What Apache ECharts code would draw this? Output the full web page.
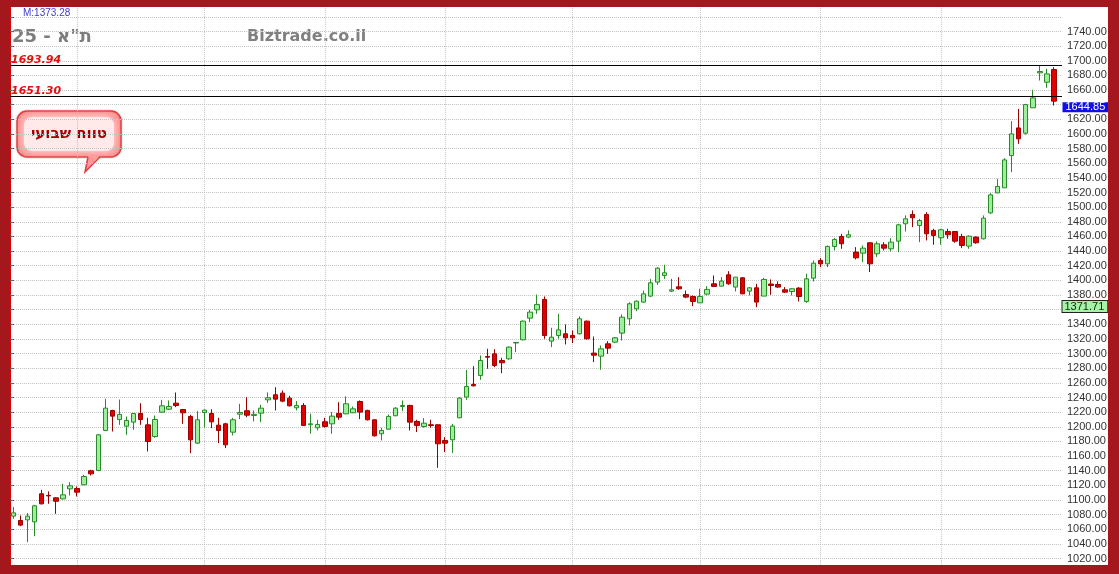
<!DOCTYPE html>
<html><head><meta charset="utf-8">
<script src="https://cdn.jsdelivr.net/npm/echarts@6/dist/echarts.min.js"></script>
<style>
html,body{margin:0;padding:0;background:#a3171d;width:1119px;height:574px;overflow:hidden}
#panel{position:absolute;left:9px;top:7px;width:1099px;height:558px;background:#fff;border-left:1px solid #8a8a8a;box-sizing:border-box}
#chart{position:absolute;left:0;top:0;width:1119px;height:574px}
.b{position:absolute;background:#a3171d}
</style></head><body>
<div id="panel"></div>
<div id="chart"></div>
<div class="b" style="left:0;top:0;width:1119px;height:7px"></div>
<div class="b" style="left:0;top:565px;width:1119px;height:9px"></div>
<div class="b" style="left:0;top:0;width:9px;height:574px"></div>
<div class="b" style="left:1108px;top:0;width:11px;height:574px"></div>
<script>
// ---- data (weekly candles) ----
const openPrices = [1077.9,1071.9,1072.8,1070.1,1108.4,1106.1,1102.9,1101.5,1115.2,1115.6,1120.7,1139.8,1140.2,1194.9,1222.2,1209.9,1200.8,1206.3,1218.1,1202.6,1186.7,1219.9,1224.0,1232.2,1223.6,1214.0,1177.6,1219.5,1218.1,1202.2,1204.0,1192.6,1217.2,1221.8,1215.4,1218.6,1236.8,1243.7,1245.9,1239.1,1225.9,1229.1,1202.7,1198.6,1206.8,1204.0,1218.2,1217.7,1219.1,1234.5,1222.3,1209.5,1190.4,1196.7,1215.0,1227.7,1229.1,1207.2,1200.4,1202.7,1202.7,1181.3,1182.2,1212.2,1240.5,1257.8,1270.1,1296.0,1299.6,1290.5,1292.8,1314.5,1318.8,1348.4,1359.8,1373.9,1317.0,1324.7,1327.0,1324.7,1327.0,1344.3,1300.6,1296.5,1313.3,1315.6,1327.9,1347.5,1361.1,1370.3,1378.5,1397.6,1406.7,1385.3,1391.2,1380.7,1378.0,1369.3,1381.2,1395.3,1392.1,1407.6,1390.8,1403.5,1385.3,1389.8,1378.5,1395.0,1394.4,1387.1,1384.8,1389.4,1371.2,1403.0,1427.2,1422.6,1446.3,1460.0,1459.1,1438.6,1437.2,1451.3,1436.3,1448.6,1443.1,1453.6,1477.3,1490.0,1475.0,1490.0,1468.2,1458.2,1466.8,1466.8,1460.0,1446.8,1459.1,1456.8,1492.2,1519.5,1526.4,1570.5,1608.3,1601.1,1635.7,1683.5,1670.7,1688.0];
const closePrices = [1082.4,1065.6,1077.9,1092.0,1094.7,1105.5,1098.3,1107.0,1119.3,1110.6,1132.0,1135.7,1189.0,1225.4,1214.5,1216.8,1208.6,1218.1,1209.9,1179.9,1209.9,1228.6,1227.7,1229.0,1219.0,1182.1,1209.5,1222.7,1206.7,1194.9,1175.3,1209.5,1219.5,1215.8,1217.0,1225.4,1239.6,1237.7,1235.0,1228.6,1229.1,1201.8,1204.0,1203.1,1200.4,1214.5,1213.1,1231.4,1224.5,1220.0,1209.5,1187.6,1194.9,1214.1,1225.4,1229.0,1206.3,1201.8,1204.9,1201.8,1176.7,1177.6,1200.9,1239.1,1255.0,1255.9,1290.5,1295.0,1283.7,1287.4,1308.8,1315.2,1344.3,1356.6,1367.1,1324.7,1322.4,1332.4,1321.5,1321.5,1347.5,1320.1,1297.8,1306.5,1307.4,1321.5,1349.7,1368.0,1371.6,1381.6,1396.7,1416.7,1410.3,1387.1,1388.5,1377.1,1371.2,1378.0,1387.6,1391.7,1399.0,1395.3,1404.4,1381.6,1389.8,1370.3,1401.2,1393.0,1390.8,1383.9,1388.5,1378.0,1402.1,1423.5,1422.6,1446.3,1455.9,1450.0,1462.3,1430.8,1444.0,1422.6,1450.0,1444.0,1452.2,1475.9,1484.1,1485.5,1481.8,1463.6,1461.4,1469.1,1462.3,1453.6,1447.7,1460.4,1451.3,1485.0,1516.8,1528.2,1564.6,1600.1,1593.3,1640.2,1649.3,1685.3,1682.1,1644.85];
const lowPrices = [1074.2,1064.2,1042.3,1050.5,1093.8,1094.7,1081.0,1100.6,1106.1,1104.7,1120.2,1133.4,1139.3,1194.0,1193.5,1202.6,1189.0,1195.8,1202.6,1166.2,1184.9,1219.5,1223.1,1226.8,1204.0,1163.9,1176.7,1199.0,1198.1,1177.6,1170.8,1188.1,1210.4,1213.1,1207.2,1206.3,1232.7,1222.3,1233.6,1227.7,1222.3,1201.3,1190.4,1194.9,1198.6,1190.4,1209.5,1217.2,1218.6,1210.4,1208.6,1186.7,1181.3,1196.3,1214.5,1221.3,1194.9,1192.7,1198.6,1198.6,1143.9,1165.3,1164.0,1211.8,1236.8,1255.0,1264.1,1279.2,1281.4,1273.2,1291.5,1301.9,1317.9,1342.9,1354.3,1320.1,1308.8,1320.1,1312.4,1314.2,1326.1,1319.2,1288.3,1277.8,1299.6,1314.2,1317.9,1338.4,1357.9,1369.3,1377.1,1393.9,1402.1,1383.9,1387.1,1375.7,1364.8,1369.3,1379.4,1390.8,1391.7,1393.9,1384.8,1381.1,1379.4,1363.4,1378.5,1380.3,1389.8,1383.0,1379.4,1371.2,1369.3,1398.5,1418.1,1418.1,1440.9,1443.1,1457.7,1428.6,1424.9,1411.3,1431.8,1440.9,1439.5,1438.6,1466.8,1472.7,1452.2,1454.5,1448.6,1448.6,1456.8,1451.3,1444.0,1443.1,1450.0,1455.9,1490.9,1519.1,1526.4,1547.8,1586.5,1599.2,1635.7,1673.0,1663.0,1638.9];
const highPrices = [1090.2,1078.8,1082.0,1093.3,1113.8,1111.6,1103.5,1122.0,1124.3,1118.4,1134.3,1141.2,1190.3,1238.2,1223.1,1237.2,1214.0,1218.6,1232.2,1212.2,1215.4,1236.8,1235.9,1246.8,1224.0,1216.3,1221.3,1223.6,1224.0,1212.2,1205.4,1212.2,1231.3,1240.4,1222.3,1230.0,1246.8,1254.1,1249.6,1242.3,1235.0,1232.3,1217.7,1209.5,1212.2,1220.0,1233.6,1241.4,1227.7,1236.0,1223.2,1210.0,1198.6,1216.8,1226.8,1235.9,1230.0,1209.5,1211.8,1209.5,1203.1,1185.8,1204.0,1240.5,1277.8,1282.8,1297.4,1306.5,1306.0,1294.2,1309.7,1315.6,1345.2,1359.8,1380.7,1378.0,1335.2,1354.3,1339.7,1331.5,1350.7,1345.2,1323.3,1311.0,1317.0,1322.4,1353.4,1370.2,1372.5,1386.2,1402.1,1418.1,1421.3,1402.1,1404.4,1386.2,1379.4,1388.5,1392.1,1406.7,1404.4,1412.6,1404.4,1404.4,1390.8,1395.3,1403.5,1401.2,1398.5,1390.8,1389.4,1390.8,1409.0,1427.2,1430.4,1447.7,1457.7,1463.6,1468.2,1445.4,1447.7,1452.2,1453.2,1452.2,1457.7,1477.3,1488.7,1495.5,1484.1,1493.2,1470.5,1470.5,1470.5,1466.8,1463.6,1461.4,1460.0,1488.7,1519.1,1538.7,1566.9,1617.5,1634.3,1641.1,1660.3,1693.94,1689.0,1691.2];
const weeks = openPrices.map((_, i) => 'W' + (i + 1));
const gridWeeks = [9, 27, 44, 61, 79, 97, 114, 131];   // weeks with a vertical grid line
const rangeLines = [1693.94, 1651.30];                 // weekly range lines
const lastPrice = 1644.85;
const avgPrice = 1371.71;
const avgText = 'M:1373.28';
const titleText = 'ת"א - 25';
const siteText = 'Biztrade.co.il';
const bubbleText = 'טווח שבועי';
const yMin = 1000, yMax = 1780, yStep = 20, labelLow = 1020, labelHigh = 1740;

const candles = weeks.map((w, i) => [openPrices[i], closePrices[i], lowPrices[i], highPrices[i]]);

const TOP = 2.22, BOTTOM = 0.86;
const chart = echarts.init(document.getElementById('chart'), null, {renderer: 'canvas'});
const hidden = v => (v > lastPrice - 15 && v <= lastPrice) || (v > avgPrice - 15 && v <= avgPrice);

chart.setOption({
  animation: false,
  backgroundColor: 'transparent',
  grid: [
    {left: 10, right: 57, top: TOP, bottom: BOTTOM, containLabel: false, outerBoundsMode: 'none'},
    {left: 9.76, right: 61.4, top: TOP, bottom: BOTTOM, containLabel: false, outerBoundsMode: 'none'}
  ],
  xAxis: [
    {gridIndex: 0, type: 'value', min: 0, max: 1, show: false},
    {gridIndex: 1, type: 'category', data: weeks, show: false, boundaryGap: true}
  ],
  yAxis: [
    {gridIndex: 0, type: 'value', position: 'right', min: yMin, max: yMax, interval: yStep,
     axisLine: {show: true, lineStyle: {color: '#e00000', width: 2}},
     axisTick: {show: true, length: 4, lineStyle: {color: '#666'}},
     axisLabel: {show: true, margin: 5, fontSize: 11, color: '#333', fontFamily: '"Liberation Sans", Arial, sans-serif',
       formatter: v => (v < labelLow || v > labelHigh || hidden(v)) ? '' : v.toFixed(2)},
     splitLine: {show: true, lineStyle: {type: 'dotted', color: '#c4c4c4', width: 1}}},
    {gridIndex: 1, type: 'value', min: yMin, max: yMax, show: false, splitLine: {show: false}}
  ],
  graphic: [
    {type: 'text', x: 23, y: 13.5, style: {text: avgText, fill: '#3c3cd2', font: '10px "Liberation Sans", Arial', align: 'left', verticalAlign: 'middle'}},
    {type: 'text', x: 12, y: 37, style: {text: titleText, fill: '#7d7d7d', font: 'bold 18px "DejaVu Sans"', align: 'left', verticalAlign: 'middle'}},
    {type: 'text', x: 247, y: 37, style: {text: siteText, fill: '#808080', font: 'bold 16px "DejaVu Sans"', align: 'left', verticalAlign: 'middle'}},
    {type: 'rect', shape: {x: 17, y: 111, width: 104, height: 46, r: 10},
     style: {fill: '#ff9696', stroke: '#e23a3a', lineWidth: 1.5, shadowBlur: 3, shadowColor: 'rgba(0,0,0,0.18)'}},
    {type: 'polygon', shape: {points: [[88, 155.5], [100, 155.5], [85, 172]]}, style: {fill: '#ff9696', stroke: null}},
    {type: 'polyline', shape: {points: [[100, 157], [85, 172], [88, 157]]}, style: {stroke: '#e23a3a', lineWidth: 1.5, fill: null}},
    {type: 'rect', shape: {x: 24, y: 117, width: 90, height: 34, r: 8},
     style: {fill: '#ffe9e9', shadowBlur: 9, shadowColor: '#ffe2e2'}},
    {type: 'text', x: 69, y: 134, style: {text: bubbleText, fill: '#a00000', font: 'bold 15px "DejaVu Sans"', align: 'center', verticalAlign: 'middle'}}
  ],
  series: [
    {
      type: 'line', xAxisIndex: 0, yAxisIndex: 0, data: [[0, null]], symbol: 'none', silent: true, clip: false,
      markLine: {
        silent: true, animation: false, symbol: ['none', 'none'], z: 4,
        lineStyle: {color: '#000', width: 1, type: 'solid'},
        label: {show: true, position: 'insideStartTop', distance: [1, 0], formatter: p => p.value.toFixed(2),
                color: '#e21010', fontStyle: 'italic', fontWeight: 'bold', fontSize: 11, fontFamily: '"DejaVu Sans"'},
        data: rangeLines.map(v => ({yAxis: v}))
      },
      markPoint: {
        silent: true, animation: false, symbol: 'rect', symbolSize: 1, itemStyle: {color: 'rgba(0,0,0,0)'},
        data: [
          {coord: [1, lastPrice], value: lastPrice,
           label: {show: true, position: 'right', distance: 0, offset: [0, 6], formatter: p => p.value.toFixed(2),
                   color: '#fff', backgroundColor: '#1010e6', fontSize: 11, lineHeight: 10, padding: [0, 3, 0, 3],
                   fontFamily: '"Liberation Sans", Arial'}},
          {coord: [1, avgPrice], value: avgPrice,
           label: {show: true, position: 'right', distance: 0, offset: [0, 5.5], formatter: p => p.value.toFixed(2),
                   color: '#0b2a0b', backgroundColor: '#a6f2a6', borderColor: '#222', borderWidth: 1, fontSize: 11, lineHeight: 10,
                   padding: [1, 3, 0, 2], fontFamily: '"Liberation Sans", Arial'}}
        ]
      }
    },
    {
      type: 'candlestick', xAxisIndex: 1, yAxisIndex: 1, data: candles, barWidth: 5,
      itemStyle: {color: '#9cf09c', color0: '#e00000', borderColor: '#2a8a2a', borderColor0: '#9a0000', borderWidth: 1},
      markLine: {
        silent: true, animation: false, symbol: ['none', 'none'], z: 1,
        label: {show: false},
        lineStyle: {type: 'dotted', color: '#c4c4c4', width: 1},
        data: gridWeeks.map(i => ({xAxis: i}))
      }
    }
  ]
});
</script>
</body></html>
